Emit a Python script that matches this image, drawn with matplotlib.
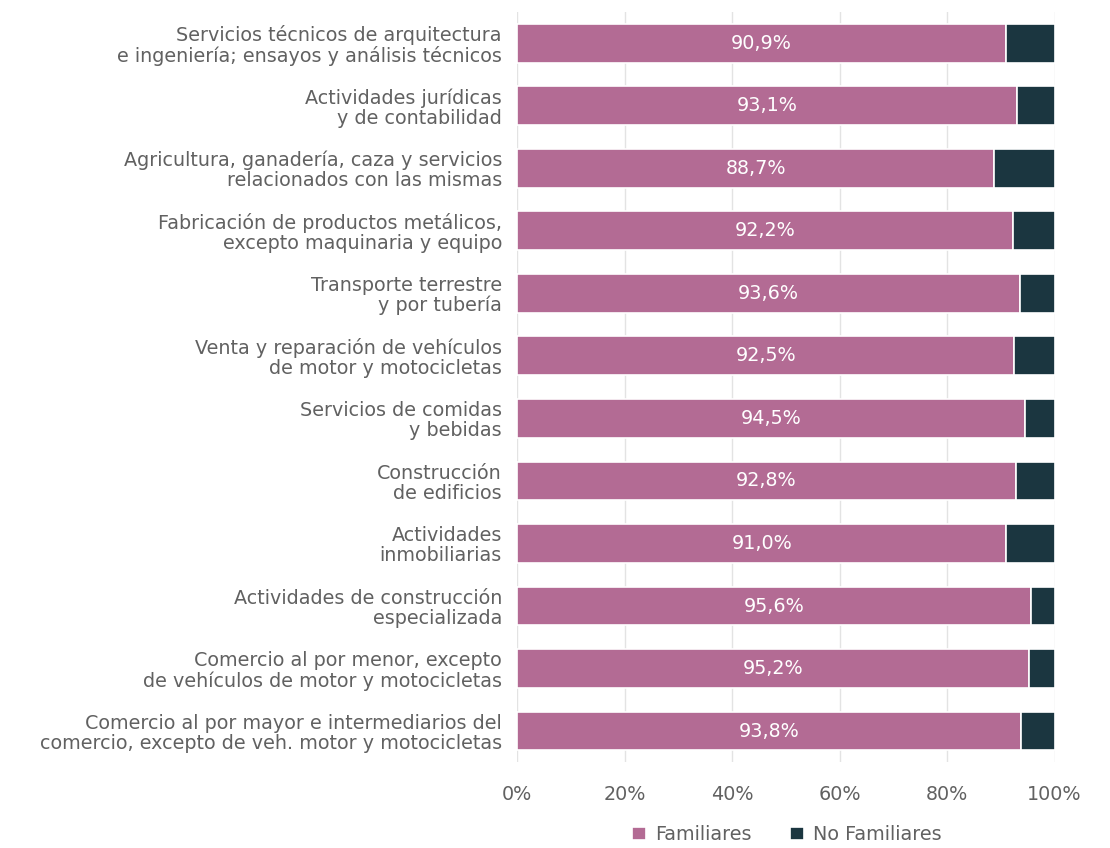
import matplotlib
matplotlib.use("Agg")
import matplotlib.pyplot as plt
import numpy as np

# Data (top to bottom).
categorias = [
    "Servicios técnicos de arquitectura\ne ingeniería; ensayos y análisis técnicos",
    "Actividades jurídicas\ny de contabilidad",
    "Agricultura, ganadería, caza y servicios\nrelacionados con las mismas",
    "Fabricación de productos metálicos,\nexcepto maquinaria y equipo",
    "Transporte terrestre\ny por tubería",
    "Venta y reparación de vehículos\nde motor y motocicletas",
    "Servicios de comidas\ny bebidas",
    "Construcción\nde edificios",
    "Actividades\ninmobiliarias",
    "Actividades de construcción\nespecializada",
    "Comercio al por menor, excepto\nde vehículos de motor y motocicletas",
    "Comercio al por mayor e intermediarios del\ncomercio, excepto de veh. motor y motocicletas",
]
familiares = [90.9, 93.1, 88.7, 92.2, 93.6, 92.5, 94.5, 92.8, 91.0, 95.6, 95.2, 93.8]
no_familiares = [round(100 - v, 1) for v in familiares]
ticks = [0, 20, 40, 60, 80, 100]

rosa = "#B36B94"
oscuro = "#1B3640"
gris = "#616161"
fs = 13.8

plt.rcParams["font.family"] = ["DejaVu Sans"]

fig = plt.figure(figsize=(11.1, 8.48), dpi=100)
ax = fig.add_axes([0.466, 0.101, 0.484, 0.885])

y = np.arange(len(categorias))
h = 0.62
ax.barh(y, familiares, height=h, color=rosa, edgecolor="white", linewidth=1.2,
        label="Familiares", zorder=3)
ax.barh(y, no_familiares, left=familiares, height=h, color=oscuro,
        edgecolor="white", linewidth=1.2, label="No Familiares", zorder=3)

for yi, v in zip(y, familiares):
    ax.text(v / 2, yi, f"{v:.1f}%".replace(".", ","), ha="center", va="center",
            color="white", fontsize=fs, zorder=4)

ax.set_ylim(len(categorias) - 0.5, -0.5)
ax.set_xlim(0, 100)
ax.set_yticks(y)
ax.set_yticklabels(categorias, fontsize=fs, color=gris, linespacing=1.05)
ax.set_xticks(ticks)
ax.set_xticklabels([f"{t}%" for t in ticks], fontsize=fs, color=gris)
ax.tick_params(axis="x", length=0, pad=16)
ax.tick_params(axis="y", length=0, pad=11)
ax.xaxis.grid(True, color="#E3E3E3", linewidth=1, zorder=0)
for s in ax.spines.values():
    s.set_visible(False)

leg = fig.legend(loc="lower center", bbox_to_anchor=(0.709, -0.016), ncol=2,
                 frameon=False, fontsize=fs, handlelength=0.7,
                 handleheight=0.7, columnspacing=2.0, handletextpad=0.5)
for t in leg.get_texts():
    t.set_color(gris)

fig.savefig("out.png", dpi=100)
